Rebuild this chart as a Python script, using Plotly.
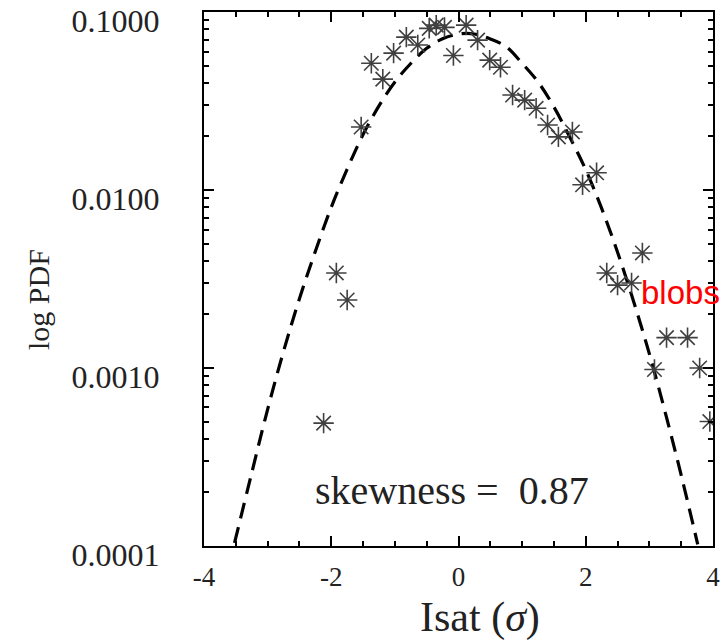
import plotly.graph_objects as go

# Measured ion-saturation-current PDF (asterisks)
isat_sigma = [-2.12, -1.92, -1.75, -1.53, -1.37, -1.19, -1.02, -0.82, -0.64, -0.46,
              -0.35, -0.22, -0.08, 0.12, 0.30, 0.49, 0.66, 0.85, 1.04, 1.22,
              1.40, 1.57, 1.79, 1.95, 2.17, 2.33, 2.50, 2.72, 2.89, 3.08,
              3.27, 3.60, 3.79, 3.95]
pdf_values = [0.00049, 0.00342, 0.00241, 0.0226, 0.0516, 0.042, 0.0588, 0.0723, 0.0653, 0.081,
              0.0845, 0.082, 0.057, 0.0845, 0.0696, 0.0537, 0.049, 0.0342, 0.032, 0.0288,
              0.0232, 0.0199, 0.0212, 0.0107, 0.0125, 0.00342, 0.00292, 0.0030, 0.00443, 0.00098,
              0.00148, 0.00148, 0.0010, 0.0005]

# Gaussian reference (dashed)
gauss_x = [-3.52, -3.25, -3.0, -2.75, -2.5, -2.25, -2.0, -1.75, -1.5, -1.25, -1.0, -0.75,
           -0.5, -0.25, 0.0, 0.12, 0.25, 0.5, 0.75, 1.0, 1.25, 1.5, 1.75, 2.0, 2.25,
           2.5, 2.75, 3.0, 3.25, 3.5, 3.76]
gauss_y = [0.000104, 0.000257, 0.000585, 0.00124, 0.00245, 0.00452, 0.0080, 0.0131, 0.0205, 0.0297,
           0.0405, 0.0514, 0.0626, 0.0708, 0.0753, 0.0759, 0.0753, 0.0706, 0.0638, 0.0515, 0.0405,
           0.0293, 0.0198, 0.0130, 0.00788, 0.00447, 0.00238, 0.00120, 0.000561, 0.000250, 0.000102]

x_ticks = [-4, -2, 0, 2, 4]
x_tick_labels = ["-4", "-2", "0", "2", "4"]
x_minor = [-3.5, -3, -2.5, -1.5, -1, -0.5, 0.5, 1, 1.5, 2.5, 3, 3.5]
y_ticks = [1e-4, 1e-3, 1e-2, 1e-1]
y_tick_labels = ["0.0001", "0.0010", "0.0100", "0.1000"]
y_minor = [m * d for d in (1e-4, 1e-3, 1e-2) for m in range(2, 10)]

serif = "Liberation Serif, Times New Roman, serif"
ink = "#222222"

fig = go.Figure()

fig.add_trace(go.Scatter(
    x=gauss_x, y=gauss_y, mode="lines", line_shape="spline",
    line=dict(color="black", width=3.2, dash="16px,9px"),
    showlegend=False, hoverinfo="skip",
))

fig.add_trace(go.Scatter(
    x=isat_sigma, y=pdf_values, mode="markers",
    marker=dict(symbol="asterisk-open", size=17, color="#404040",
                line=dict(color="#404040", width=1.6)),
    showlegend=False,
))

fig.update_layout(
    width=726, height=643,
    margin=dict(l=204, r=13, t=12, b=97),
    paper_bgcolor="white", plot_bgcolor="white",
    font=dict(family=serif, color="black"),
    xaxis=dict(
        range=[-4, 4], tickvals=x_ticks, ticktext=x_tick_labels,
        ticks="inside", ticklen=10, tickwidth=2, automargin=False,
        tickcolor="black", showline=True, linecolor="black", linewidth=2,
        mirror="allticks", showgrid=False, zeroline=False,
        tickfont=dict(family=serif, size=27, color=ink),
        ticklabelstandoff=6,
        minor=dict(tickvals=x_minor, ticks="inside", ticklen=5, tickwidth=1.5,
                   tickcolor="black", showgrid=False),
    ),
    yaxis=dict(
        type="log", range=[-4.0005, -0.9995], tickvals=y_ticks, ticktext=y_tick_labels,
        ticks="inside", ticklen=10, tickwidth=2, tickcolor="black", automargin=False,
        showline=True, linecolor="black", linewidth=2, mirror="allticks",
        showgrid=False, zeroline=False,
        tickfont=dict(family=serif, size=32, color=ink),
        ticklabelstandoff=36, ticklabelshift=9,
        minor=dict(tickvals=y_minor, ticks="inside", ticklen=5, tickwidth=1.5,
                   tickcolor="black", showgrid=False),
    ),
    annotations=[
        dict(text="Isat (<i>σ</i>)", xref="paper", yref="paper",
             x=(480 - 204) / 509, y=-(617 - 546) / 534, xanchor="center", yanchor="middle",
             showarrow=False, font=dict(family=serif, size=42, color=ink)),
        dict(text="log PDF", xref="paper", yref="paper", textangle=-90,
             x=-(204 - 38) / 509, y=(546 - 300) / 534, xanchor="center", yanchor="middle",
             showarrow=False, font=dict(family=serif, size=30, color=ink)),
        dict(text="skewness =\u00a0 0.87", x=-2.28, y=-3.69, xref="x", yref="y",
             xanchor="left", yanchor="middle", showarrow=False,
             font=dict(family=serif, size=40, color=ink)),
        dict(text="blobs", x=2.84, y=-2.575, xref="x", yref="y",
             xanchor="left", yanchor="middle", showarrow=False,
             font=dict(family="Liberation Sans, Arial, sans-serif", size=33, color="red")),
    ],
)

fig.write_html("out.html")
